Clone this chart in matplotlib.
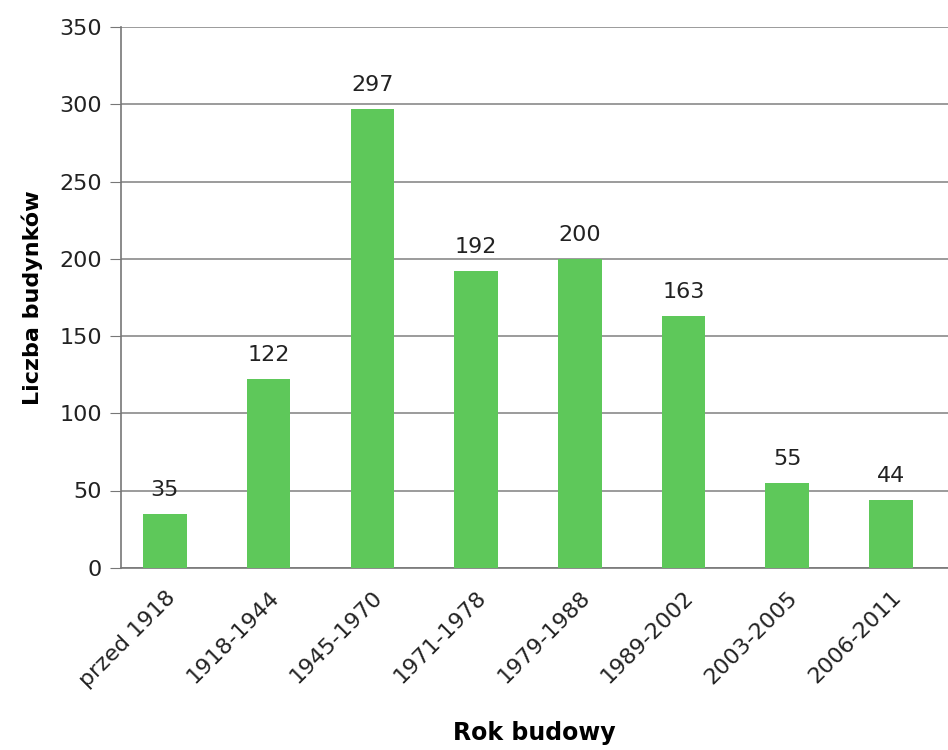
import matplotlib.pyplot as plt

categories = ['przed 1918', '1918-1944', '1945-1970', '1971-1978',
              '1979-1988', '1989-2002', '2003-2005', '2006-2011']
values = [35, 122, 297, 192, 200, 163, 55, 44]
y_ticks = [0, 50, 100, 150, 200, 250, 300, 350]

plt.rcParams['font.family'] = ['DejaVu Sans']

fig = plt.figure(figsize=(9.48, 7.5), dpi=100)
ax = fig.add_axes([0.128, 0.243, 0.872, 0.721])

x = range(len(categories))
bars = ax.bar(x, values, width=0.42, color='#5ec85a', zorder=3)

for b, v in zip(bars, values):
    ax.text(b.get_x() + b.get_width() / 2, v + 9, str(v),
            ha='center', va='bottom', fontsize=16, color='#222222', zorder=4)

ax.set_ylim(0, 350)
ax.set_xlim(-0.42, 7.55)
ax.set_yticks(y_ticks)
ax.set_xticks(list(x))
ax.set_xticklabels(categories, rotation=45, ha='right', rotation_mode='anchor',
                   fontsize=16, color='#222222')
ax.tick_params(axis='y', labelsize=16, labelcolor='#222222', length=8,
               color='#777777', pad=6)
ax.tick_params(axis='x', length=0, pad=14)

ax.yaxis.grid(True, color='#8a8a8a', linewidth=1.2, zorder=0)
for side in ['top', 'right']:
    ax.spines[side].set_visible(False)
for side in ['left', 'bottom']:
    ax.spines[side].set_color('#777777')
    ax.spines[side].set_linewidth(1.2)

ax.set_ylabel('Liczba budynków', fontsize=16, fontweight='bold', labelpad=12)
ax.set_xlabel('Rok budowy', fontsize=17, fontweight='bold', labelpad=22)

plt.savefig('out.png', dpi=100)
plt.close()
